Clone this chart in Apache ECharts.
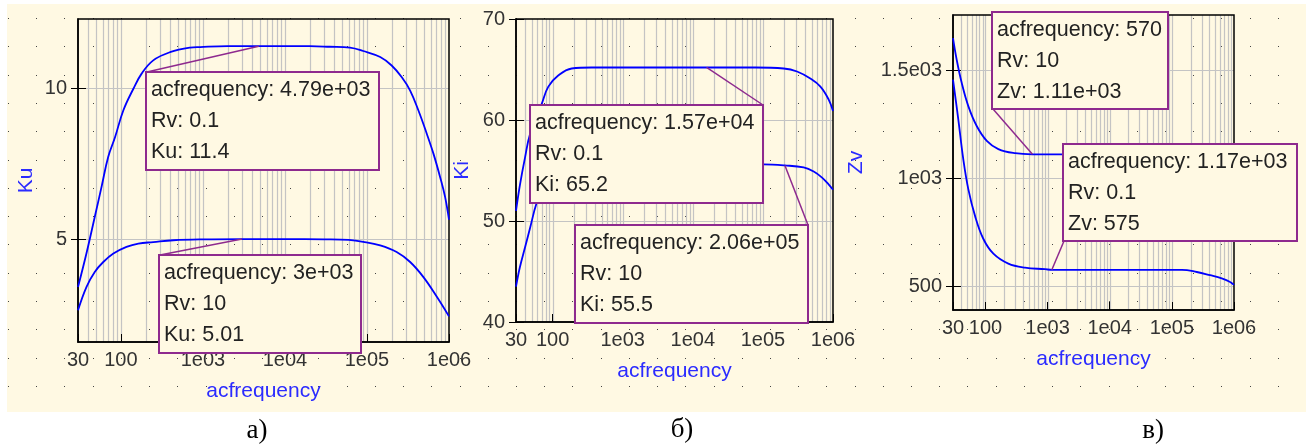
<!DOCTYPE html>
<html><head><meta charset="utf-8">
<script src="https://cdn.jsdelivr.net/npm/echarts@6/dist/echarts.min.js"></script>
<style>
html,body{margin:0;padding:0;background:#fff;}
#bg{position:absolute;left:0;top:0;}
#chart{position:absolute;left:0;top:0;width:1306px;height:445px;}
</style></head><body>
<canvas id="bg" width="1306" height="445"></canvas>
<div id="chart"></div>
<script>
// ---------------- DATA ----------------
// Panel а : Ku vs acfrequency
const kuFreqRv01 = [30, 38, 48, 58, 70, 85, 107, 142, 179, 248, 397, 697, 923, 2000, 4790, 10000, 20000, 35000, 62000, 90000, 145000, 200000, 266000, 336000, 424000, 536000, 646000, 780000, 897000, 1000000];
const kuValRv01  = [3.42, 4.53, 5.74, 6.73, 7.73, 8.39, 9.27, 9.99, 10.49, 10.93, 11.2, 11.35, 11.37, 11.4, 11.4, 11.4, 11.4, 11.38, 11.35, 11.24, 11.04, 10.76, 10.37, 9.93, 9.27, 8.5, 7.84, 7.06, 6.4, 5.65];
const kuFreqRv10 = [30, 38, 48, 61, 81, 117, 163, 248, 437, 1000, 3000, 10000, 30000, 60000, 90000, 145000, 230000, 336000, 488000, 714000, 1000000];
const kuValRv10  = [2.65, 3.42, 3.92, 4.25, 4.53, 4.75, 4.86, 4.91, 4.97, 5.0, 5.01, 5.01, 5.0, 4.98, 4.92, 4.8, 4.58, 4.25, 3.75, 3.09, 2.45];
// Panel б : Ki vs acfrequency
const kiFreqRv01 = [30, 34.2, 40.4, 47.6, 69.8, 86.8, 120, 187, 361, 1000, 10000, 15700, 78000, 198000, 307000, 475000, 661000, 871000, 1000000];
const kiValRv01  = [51.0, 53.6, 56.3, 58.6, 61.6, 63.3, 64.4, 65.1, 65.2, 65.2, 65.2, 65.2, 65.2, 65.1, 64.8, 64.1, 63.3, 62.0, 60.9];
const kiFreqRv10 = [30, 34, 40.4, 47.6, 58.6, 70, 100, 200, 500, 1000, 10000, 101000, 206000, 381000, 530000, 698000, 871000, 1000000];
const kiValRv10  = [43.5, 45.4, 47.4, 49.3, 51.7, 52.8, 54.0, 55.1, 55.4, 55.5, 55.5, 55.6, 55.5, 55.3, 54.9, 54.3, 53.6, 53.1];
// Panel в : Zv vs acfrequency
const zvFreqRv10 = [30, 34.4, 41.4, 52.9, 72.2, 105, 161, 299, 570, 1000, 10000, 100000, 250000, 400000, 640000, 1000000];
const zvValRv10  = [1648, 1548, 1441, 1333, 1241, 1172, 1134, 1115, 1110, 1110, 1110, 1110, 1095, 1070, 1040, 985];
const zvFreqRv01 = [30, 36.5, 43.9, 52.9, 67.7, 92.2, 134, 233, 432, 910, 1170, 10000, 145000, 252000, 412000, 635000, 865000, 1000000];
const zvValRv01  = [1456, 1272, 1088, 949, 826, 719, 650, 604, 585, 578, 575, 575, 575, 565, 550, 535, 519, 505];

// axis ticks
const kuTicks = [5, 10];
const kiTicks = [40, 50, 60, 70];
const zvTicks = [500, 1000, 1500];
const freqGridMantissas = [1, 2, 3, 4, 5, 6, 7, 8, 9];
const freqGridDecades = [10, 100, 1000, 10000, 100000];
const yNames = ['Ku', 'Ki', 'Zv'];
const panelLetters = ['а)', 'б)', 'в)'];

// annotations (cursor read-outs)
const noteGrid    = [0, 0, 1, 1, 2, 2];
const noteFreq    = [4790, 3000, 15700, 206000, 570, 1170];
const noteVal     = [11.4, 5.01, 65.2, 55.5, 1110, 575];
const noteFreqTxt = ['4.79e+03', '3e+03', '1.57e+04', '2.06e+05', '570', '1.17e+03'];
const noteRvTxt   = ['0.1', '10', '0.1', '10', '10', '0.1'];
const noteValTxt  = ['11.4', '5.01', '65.2', '55.5', '1.11e+03', '575'];

// ---------------- LAYOUT / STYLE ----------------
const FONT = '"Liberation Sans", Arial, sans-serif';
const BEIGE = '#FFF9E3';
const PURPLE = '#8E2A8E';
const GRIDLINE = '#c4c4c4';
const grids = [
  {left: 78, top: 19, width: 371, height: 323},
  {left: 516, top: 19, width: 317, height: 303},
  {left: 953, top: 15, width: 281, height: 295}
];
const yRanges = [[1.6, 12.3], [40, 70], [389, 1755]];
const yNameGaps = [41, 43, 86];
const noteBoxes = [[146, 72, 233, 98], [159, 255, 202, 98], [530, 105, 233, 98], [575, 225, 233, 98], [992, 12, 176, 97], [1063, 144, 234, 97]];
const noteCorner = ['tl', 'tl', 'tr', 'tr', 'bl', 'bl'];
const letterPos = [[257, 431], [682, 430], [1153, 431]];

// background with dot pattern
(function () {
  const c = document.getElementById('bg').getContext('2d');
  c.fillStyle = BEIGE;
  c.fillRect(7, 4, 1299, 408);
  c.fillStyle = '#444';
  for (let x = 8; x < 1306; x += 28.22) {
    for (let y = 18; y < 412; y += 28.3) {
      c.fillRect(Math.round(x), Math.round(y), 1, 1);
    }
  }
})();

function fmtFreq(v) {
  const e = Math.round(Math.log10(v));
  if (Math.abs(v - Math.pow(10, e)) > 1e-6 * v || e < 3) return String(Math.round(v));
  return '1e' + (e < 10 ? '0' : '') + e;
}
function fmtZv(v) {
  if (v >= 1000) return (v / 1000) + 'e03';
  return String(v);
}
const yFormatters = [v => String(v), v => String(v), fmtZv];
const yTicks = [kuTicks, kiTicks, zvTicks];

const xAxes = [], yAxes = [], series = [];
const seriesData = [
  [[kuFreqRv01, kuValRv01], [kuFreqRv10, kuValRv10]],
  [[kiFreqRv01, kiValRv01], [kiFreqRv10, kiValRv10]],
  [[zvFreqRv10, zvValRv10], [zvFreqRv01, zvValRv01]]
];
const vGrid = [];
freqGridDecades.forEach(d => freqGridMantissas.forEach(m => { if (m * d > 30 && m * d < 1000000) vGrid.push(m * d); }));

grids.forEach((g, i) => {
  xAxes.push({
    type: 'log', logBase: 10, gridIndex: i, min: 30, max: 1000000,
    axisLine: {show: true, onZero: false, lineStyle: {color: '#000', width: 1.5}},
    axisTick: {show: true, inside: true, length: 8, lineStyle: {color: '#000', width: 1}},
    axisLabel: {color: '#333', fontSize: 20, fontFamily: FONT, margin: 8, formatter: fmtFreq, showMinLabel: true, showMaxLabel: true},
    splitLine: {show: false}, minorTick: {show: false}, minorSplitLine: {show: false},
    name: 'acfrequency', nameLocation: 'middle', nameGap: 39,
    nameTextStyle: {color: '#2b2bff', fontSize: 21, fontFamily: FONT}
  });
  yAxes.push({
    type: 'value', gridIndex: i, min: yRanges[i][0], max: yRanges[i][1], position: 'left',
    axisLine: {show: true, onZero: false, lineStyle: {color: '#000', width: 1.5}},
    axisTick: {show: true, inside: false, length: 7, customValues: yTicks[i], lineStyle: {color: '#000', width: 1}},
    axisLabel: {customValues: yTicks[i], formatter: yFormatters[i], color: '#333', fontSize: 20, fontFamily: FONT, margin: 11},
    splitLine: {show: false},
    name: yNames[i], nameLocation: 'middle', nameRotate: 90, nameGap: yNameGaps[i],
    nameTextStyle: {color: '#2b2bff', fontSize: 21, fontFamily: FONT}
  });
  yAxes.push({
    type: 'value', gridIndex: i, min: yRanges[i][0], max: yRanges[i][1], position: 'left',
    axisLine: {show: false},
    axisTick: {show: true, inside: true, length: 8, customValues: yTicks[i], lineStyle: {color: '#000', width: 1}},
    axisLabel: {show: false}, splitLine: {show: false}
  });
  seriesData[i].forEach(([fx, vy]) => {
    series.push({
      type: 'line', xAxisIndex: i, yAxisIndex: i * 2, z: 5, showSymbol: false, animation: false,
      smooth: 0.4,
      lineStyle: {color: '#0000ff', width: 1.8},
      data: fx.map((f, k) => [f, vy[k]])
    });
  });
});

const chart = echarts.init(document.getElementById('chart'), null, {renderer: 'canvas'});
chart.setOption({
  backgroundColor: 'transparent',
  animation: false,
  grid: grids.map(g => Object.assign({show: true, borderColor: '#000', borderWidth: 1.5, backgroundColor: 'transparent', containLabel: false}, g)),
  xAxis: xAxes, yAxis: yAxes, series: series
});

const gfx = [];
// grid lines, positioned through the axes' own scales
grids.forEach((g, i) => {
  const yTop = chart.convertToPixel({yAxisIndex: i * 2}, yRanges[i][1]);
  const yBot = chart.convertToPixel({yAxisIndex: i * 2}, yRanges[i][0]);
  const xL = chart.convertToPixel({xAxisIndex: i}, 30);
  const xR = chart.convertToPixel({xAxisIndex: i}, 1000000);
  vGrid.forEach(f => {
    const x = Math.round(chart.convertToPixel({xAxisIndex: i}, f)) + 0.5;
    gfx.push({type: 'line', z: -10, silent: true, shape: {x1: x, y1: yTop, x2: x, y2: yBot}, style: {stroke: GRIDLINE, lineWidth: 1.2}});
  });
  yTicks[i].filter(v => v > yRanges[i][0] && v < yRanges[i][1]).forEach(v => {
    const y = Math.round(chart.convertToPixel({yAxisIndex: i * 2}, v)) + 0.5;
    gfx.push({type: 'line', z: -10, silent: true, shape: {x1: xL, y1: y, x2: xR, y2: y}, style: {stroke: GRIDLINE, lineWidth: 1.2}});
  });
});
// annotations: boxes + leader lines to the marked data points
noteFreq.forEach((f, i) => {
  const p = chart.convertToPixel({xAxisIndex: noteGrid[i], yAxisIndex: noteGrid[i] * 2}, [f, noteVal[i]]);
  const [bx, by, bw, bh] = noteBoxes[i];
  const c = noteCorner[i];
  const ax = c[1] === 'l' ? bx + 1 : bx + bw;
  const ay = c[0] === 't' ? by : by + bh;
  gfx.push({type: 'line', z: 99, silent: true, shape: {x1: p[0], y1: p[1], x2: ax, y2: ay}, style: {stroke: PURPLE, lineWidth: 1.5}});
  gfx.push({type: 'rect', z: 100, silent: true, shape: {x: bx, y: by, width: bw, height: bh}, style: {fill: BEIGE, stroke: PURPLE, lineWidth: 2}});
  gfx.push({type: 'text', z: 101, silent: true, x: bx + 5, y: by + 3,
    style: {text: 'acfrequency: ' + noteFreqTxt[i] + '\nRv: ' + noteRvTxt[i] + '\n' + yNames[noteGrid[i]] + ': ' + noteValTxt[i],
      font: '21.5px ' + FONT, fill: '#222', lineHeight: 31, verticalAlign: 'top', align: 'left'}});
});
panelLetters.forEach((t, i) => {
  gfx.push({type: 'text', z: 101, silent: true, x: letterPos[i][0], y: letterPos[i][1],
    style: {text: t, font: '27px "Liberation Serif", "Times New Roman", serif', fill: '#000', align: 'center', verticalAlign: 'middle'}});
});
chart.setOption({graphic: {elements: gfx}});
</script></body></html>
